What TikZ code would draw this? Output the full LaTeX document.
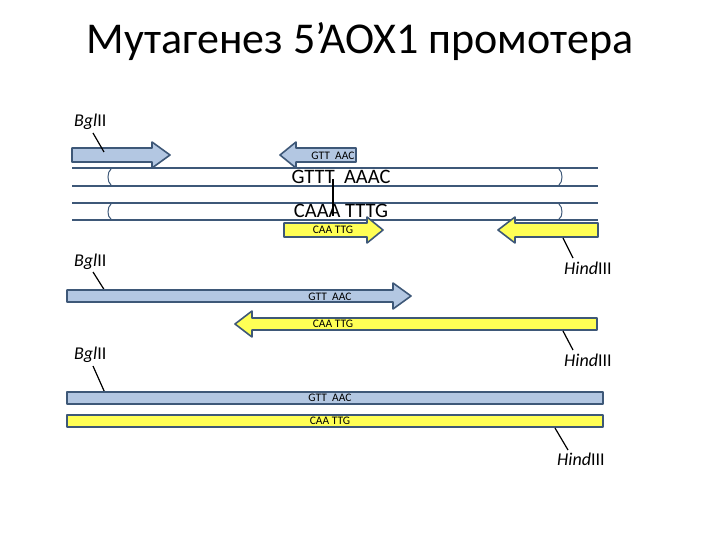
\documentclass[tikz,border=0pt]{standalone}
\usepackage{fontspec}
\setmainfont{Carlito}
\begin{document}
\begin{tikzpicture}[x=1pt,y=-1pt,
  bd/.style={draw=bord,line width=1.6pt,line join=round},
  bl/.style={bd,fill=bluef},
  ye/.style={bd,fill=yelf},
  sm/.style={font=\fontsize{11.5}{11.5}\selectfont,inner sep=0pt},
  lab/.style={font=\fontsize{18}{18}\selectfont,inner sep=0pt},
  big/.style={font=\fontsize{20.5}{20.5}\selectfont,inner sep=0pt},
  lead/.style={line width=1.2pt,black},
  dna/.style={draw=bord,line width=1.4pt},
  brk/.style={draw=bord,line width=1pt}]
\definecolor{bord}{HTML}{3E5878}
\definecolor{bluef}{HTML}{B3C7E2}
\definecolor{yelf}{HTML}{FFFF55}
\useasboundingbox (0,0) rectangle (720,540);
\node[font=\fontsize{44}{44}\selectfont,inner sep=0pt] (title) at (360,42) {Мутагенез 5’AOX1 промотера};
% Row 1
\node[lab,anchor=west] (b1) at (74,122) {\textit{Bgl}II};
\draw[bl] (72,148) -- (152,148) -- (152,142) -- (170,155) -- (152,168) -- (152,162) -- (72,162) -- cycle;
\coordinate (b1a) at (93,133); \coordinate (b1b) at (104,152);
\draw[lead] (b1a) -- (b1b);
\draw[bl] (356,148) -- (296,148) -- (296,142) -- (280,155) -- (296,168) -- (296,162) -- (356,162) -- cycle;
\node[sm] (t1) at (333,156) {GTT\ \ AAC};
\foreach \y in {168,186,203,220} \draw[dna] (72,\y) -- (598,\y);
\draw[brk] (111,169) .. controls (107,172) and (107,182) .. (111,185);
\draw[brk] (111,204) .. controls (107,207) and (107,217) .. (111,219);
\draw[brk] (559,169) .. controls (563,172) and (563,182) .. (559,185);
\draw[brk] (559,204) .. controls (563,207) and (563,217) .. (559,219);
\node[big] (s1) at (341,177) {GTTT\ \ AAAC};
\node[big] (s2) at (341,211) {CAAA TTTG};
\coordinate (v1) at (333,179); \coordinate (v2) at (333,216);
\draw[line width=1.2pt] (v1) -- (v2);
\draw[ye] (284,223) -- (367,223) -- (367,217) -- (383,230) -- (367,243) -- (367,237) -- (284,237) -- cycle;
\node[sm] (t2) at (333,230) {CAA TTG};
\draw[ye] (598,223) -- (515,223) -- (515,217) -- (498,230) -- (515,243) -- (515,237) -- (598,237) -- cycle;
\coordinate (h1a) at (563,238); \coordinate (h1b) at (573,258);
\draw[lead] (h1a) -- (h1b);
\node[lab,anchor=west] (h1) at (564,268) {\textit{Hind}III};
% Row 2
\node[lab,anchor=west] (b2) at (74,262) {\textit{Bgl}II};
\coordinate (b2a) at (93,272); \coordinate (b2b) at (105,291);
\draw[lead] (b2a) -- (b2b);
\draw[bl] (67,290) -- (393,290) -- (393,283) -- (411,296) -- (393,309) -- (393,302) -- (67,302) -- cycle;
\node[sm] (t3) at (330,297) {GTT\ \ AAC};
\draw[ye] (597,318) -- (252,318) -- (252,311) -- (235,324) -- (252,337) -- (252,330) -- (597,330) -- cycle;
\node[sm] (t4) at (333,324) {CAA TTG};
\coordinate (h2a) at (563,331); \coordinate (h2b) at (573,350);
\draw[lead] (h2a) -- (h2b);
\node[lab,anchor=west] (h2) at (564,360) {\textit{Hind}III};
% Row 3
\node[lab,anchor=west] (b3) at (74,355) {\textit{Bgl}II};
\coordinate (b3a) at (93,366); \coordinate (b3b) at (105,393);
\draw[lead] (b3a) -- (b3b);
\draw[bl] (67,392) rectangle (603,404);
\node[sm] (t5) at (330,398) {GTT\ \ AAC};
\draw[ye] (67,415) rectangle (603,427);
\node[sm] (t6) at (330,421) {CAA TTG};
\coordinate (h3a) at (555,428); \coordinate (h3b) at (568,450);
\draw[lead] (h3a) -- (h3b);
\node[lab,anchor=west] (h3) at (557,459) {\textit{Hind}III};
\end{tikzpicture}
\end{document}
